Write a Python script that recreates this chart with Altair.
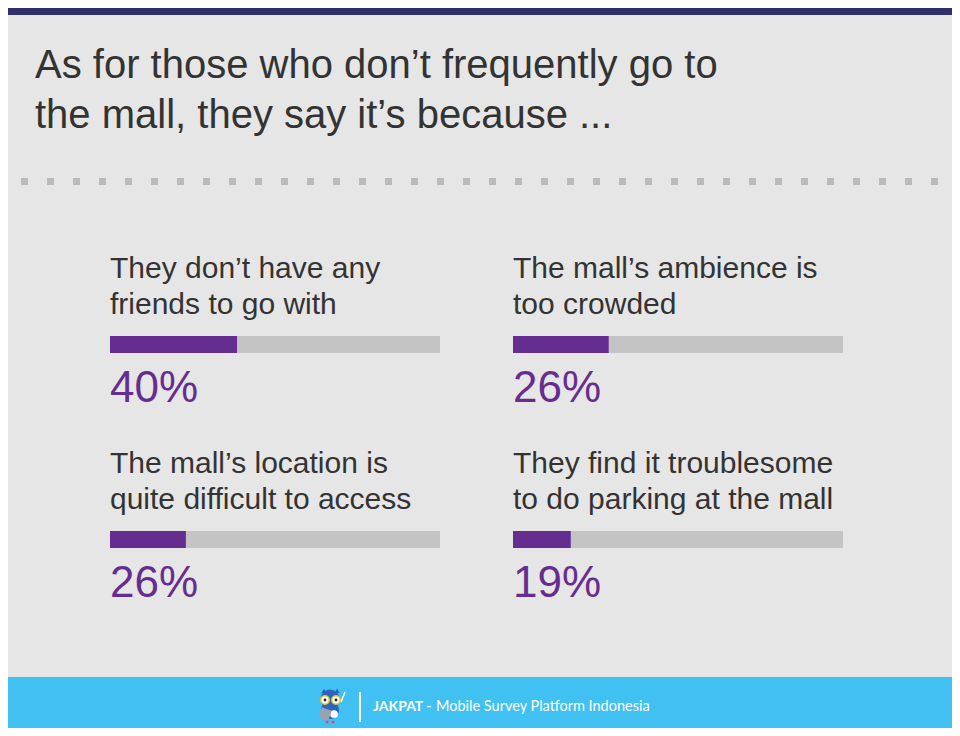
import altair as alt
import pandas as pd

# ---- data ----
title_lines = ["As for those who don’t frequently go to", "the mall, they say it’s because ..."]
labels_line1 = ["They don’t have any", "The mall’s ambience is",
                "The mall’s location is", "They find it troublesome"]
labels_line2 = ["friends to go with", "too crowded",
                "quite difficult to access", "to do parking at the mall"]
percent_labels = ["40%", "26%", "26%", "19%"]
bar_lengths = [38.5, 29, 23, 17.5]   # filled share of the track, as drawn
footer_bold = "JAKPAT -"
footer_text = "Mobile Survey Platform Indonesia"

FONT = "Liberation Sans"
DARK = "#333333"
PURPLE = "#662d91"
TRACK = "#c4c4c4"
W = 944

one = pd.DataFrame({"a": [0]})

# ---- header: navy band, title, dotted separator ----
band = alt.Chart(one).mark_rect(color="#312f6a").encode(
    x=alt.value(0), x2=alt.value(W), y=alt.value(0), y2=alt.value(7))
t1 = alt.Chart(one).mark_text(text=title_lines[0], align="left", baseline="alphabetic",
                              font=FONT, fontSize=40, color=DARK).encode(
    x=alt.value(27), y=alt.value(70))
t2 = alt.Chart(one).mark_text(text=title_lines[1], align="left", baseline="alphabetic",
                              font=FONT, fontSize=40, color=DARK).encode(
    x=alt.value(27), y=alt.value(119.5))
dots = alt.Chart(one).mark_rule(strokeDash=[7, 19], strokeWidth=7, color="#bababa",
                                strokeCap="butt").encode(
    x=alt.value(13), x2=alt.value(931), y=alt.value(173.5))
top = alt.layer(band, t1, t2, dots).properties(width=W, height=232)


# ---- the four panels ----
def panel(i):
    df = pd.DataFrame({
        "line1": [labels_line1[i]],
        "line2": [labels_line2[i]],
        "pct": [percent_labels[i]],
        "v": [bar_lengths[i]],
        "zero": [0],
        "full": [100],
    })
    base = alt.Chart(df)
    xs = alt.X("zero:Q", scale=alt.Scale(domain=[0, 100]), axis=None)
    track = base.mark_rect(color=TRACK).encode(
        x=xs, x2="full:Q", y=alt.value(96), y2=alt.value(113))
    fill = base.mark_rect(color=PURPLE).encode(
        x=xs, x2="v:Q", y=alt.value(96), y2=alt.value(113))
    l1 = base.mark_text(align="left", baseline="alphabetic", font=FONT,
                        fontSize=30, color=DARK).encode(
        x=alt.value(0), y=alt.value(38), text="line1:N")
    l2 = base.mark_text(align="left", baseline="alphabetic", font=FONT,
                        fontSize=30, color=DARK).encode(
        x=alt.value(0), y=alt.value(74), text="line2:N")
    pct = base.mark_text(align="left", baseline="alphabetic", font=FONT,
                         fontSize=44, color=PURPLE).encode(
        x=alt.value(0), y=alt.value(161.5), text="pct:N")
    return alt.layer(track, fill, l1, l2, pct).properties(width=330, height=195)


spacer = alt.Chart(one).mark_point(opacity=0, size=0).encode(
    x=alt.value(10), y=alt.value(10)).properties(width=29, height=390)
col_left = alt.vconcat(panel(0), panel(2), spacing=0)
col_right = alt.vconcat(panel(1), panel(3), spacing=0)
grid = alt.hconcat(spacer, col_left, col_right, spacing=73)

# ---- footer ----
fband = alt.Chart(one).mark_rect(color="#40c1f1").encode(
    x=alt.value(0), x2=alt.value(W), y=alt.value(47), y2=alt.value(98))
sep = alt.Chart(one).mark_rule(color="white", strokeWidth=2).encode(
    x=alt.value(352), y=alt.value(62), y2=alt.value(92))
fb = alt.Chart(one).mark_text(text=footer_bold, align="left", baseline="alphabetic",
                              font="Lato", fontWeight="bold", fontSize=14,
                              color="white").encode(x=alt.value(365), y=alt.value(81))
ft = alt.Chart(one).mark_text(text=footer_text, align="left", baseline="alphabetic",
                              font="Lato", fontSize=14.5, color="white").encode(
    x=alt.value(428), y=alt.value(81))


def sym(x, y, size, shape="circle", fill="#2b64c0", stroke=None, sw=0, angle=0):
    kw = dict(shape=shape, size=size, fill=fill, filled=True, opacity=1, angle=angle)
    if stroke is not None:
        kw.update(stroke=stroke, strokeWidth=sw)
    else:
        kw.update(strokeWidth=0)
    return alt.Chart(one).mark_point(**kw).encode(x=alt.value(x), y=alt.value(y))


owl = [
    sym(316, 61, 30, shape="triangle-up"),
    sym(329, 61, 30, shape="triangle-up"),
    sym(322, 80, 330),
    sym(322, 69, 360),
    sym(317, 70, 72, fill="white", stroke="#f2c21b", sw=1.5),
    sym(328, 70, 72, fill="white", stroke="#f2c21b", sw=1.5),
    sym(317, 70, 8, fill="#222222"),
    sym(328, 70, 8, fill="#222222"),
    sym(326, 84, 60, fill="white"),
    sym(317, 84, 110, shape="square", fill="#9aa3ad", angle=20),
    sym(319, 92, 10, fill="#e0457b"),
    sym(325, 92, 10, fill="#e0457b"),
]
arm = alt.Chart(one).mark_rule(color="white", strokeWidth=1.5).encode(
    x=alt.value(333), y=alt.value(72), x2=alt.value(337), y2=alt.value(62))
footer = alt.layer(fband, sep, fb, ft, arm, *owl).properties(width=W, height=98)

chart = alt.vconcat(top, grid, footer, spacing=0).properties(
    padding=0, background="#e6e6e6"
).configure_view(strokeWidth=0)

chart.save("out.html", embed_options={"renderer": "svg", "actions": False})
